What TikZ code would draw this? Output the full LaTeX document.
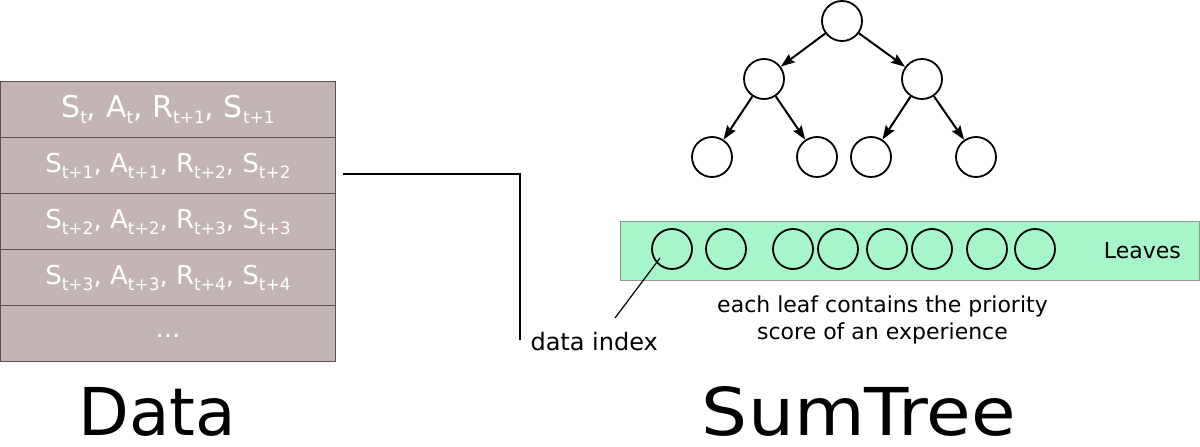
\documentclass[tikz,border=0pt]{standalone}
\usepackage{fontspec}
\setmainfont{DejaVu Sans}
\usetikzlibrary{positioning, arrows.meta}

\definecolor{rowfill}{RGB}{196,180,180}
\definecolor{rowline}{RGB}{90,80,80}
\definecolor{leafband}{RGB}{167,246,201}
\definecolor{bandline}{RGB}{150,150,150}

\newcommand{\subtx}[1]{\raisebox{-6pt}{\fontsize{17}{17}\selectfont #1}}

\begin{document}
\begin{tikzpicture}[x=1pt, y=-1pt,
  row/.style={rectangle, draw=rowline, line width=0.8pt, fill=rowfill, outer sep=0pt,
    minimum width=335pt, minimum height=56pt, inner sep=0pt, text=white,
    font=\fontsize{26}{28}\selectfont},
  tree node/.style={circle, draw, line width=1.8pt, minimum size=40pt, inner sep=0pt},
  leaf node/.style={circle, draw, line width=1.8pt, minimum size=40pt, inner sep=0pt},
  band/.style={rectangle, draw=bandline, line width=0.8pt, fill=leafband,
    minimum width=579pt, minimum height=59pt},
  lbl/.style={font=\fontsize{22}{27}\selectfont, align=center},
  title/.style={font=\fontsize{66}{70}\selectfont, anchor=base}]

\useasboundingbox (0,0) rectangle (1200,447);

% data table
\node[row, font=\fontsize{30}{32}\selectfont] (r1) at (168,109.5) {S\subtx{t}, A\subtx{t}, R\subtx{t+1}, S\subtx{t+1}};
\node[row] (r2) [below=0pt of r1] {S\subtx{t+1}, A\subtx{t+1}, R\subtx{t+2}, S\subtx{t+2}};
\node[row] (r3) [below=0pt of r2] {S\subtx{t+2}, A\subtx{t+2}, R\subtx{t+3}, S\subtx{t+3}};
\node[row] (r4) [below=0pt of r3] {S\subtx{t+3}, A\subtx{t+3}, R\subtx{t+4}, S\subtx{t+4}};
\node[row] (r5) [below=0pt of r4] {\raisebox{-4pt}[0pt][0pt]{...}};

% sum tree
\node[tree node] (root) at (842,21) {};
\node[tree node] (L) at (764,79) {};
\node[tree node] (R) at (922,79) {};
\node[tree node] (LL) at (712,157) {};
\node[tree node] (LR) at (817,157) {};
\node[tree node] (RL) at (871,157) {};
\node[tree node] (RR) at (976,157) {};

\path[line width=2pt, -{Stealth[length=14pt, width=10pt, inset=2pt]}]
(root) edge (L)
(root) edge (R)
(L) edge (LL)
(L) edge (LR)
(R) edge (RL)
(R) edge (RR)
;

% leaves
\node[band] (band) at (909.5,250.5) {};
\foreach \x [count=\i] in {672,726,793,838,887,932,987,1035}
  \node[leaf node] (l\i) at (\x,249) {};
\node[lbl, left=15pt of band.east] (leaves) {Leaves};
\node[lbl, below=12pt of band, xshift=-27pt] (note) {each leaf contains the priority\\score of an experience};

% data index
\coordinate (src) at (343,174);
\coordinate (tip) at (615,318);
\node[lbl, font=\fontsize{24}{28}\selectfont, anchor=west] (idx) at (527,342) {data index};
\draw[line width=1.2pt] (src) -| ([xshift=-7pt, yshift=2pt]idx.west);
\draw[line width=1.2pt] (tip) -- ([xshift=-12pt, yshift=-9pt]l1.center);

\node[title] (dtitle) at (157.5,435) {Data};
\node[title] (stitle) at (859,435) {\scalebox{1.1}[1]{SumTree}};

\end{tikzpicture}
\end{document}
